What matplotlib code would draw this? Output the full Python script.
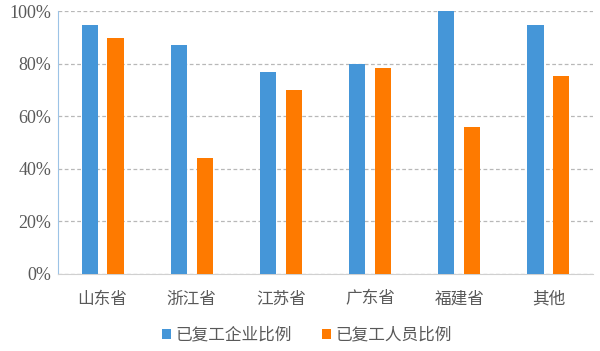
import numpy as np
import matplotlib
matplotlib.use('Agg')
import matplotlib.pyplot as plt
from matplotlib.ticker import PercentFormatter

## Data
provinces = ['山东省', '浙江省', '江苏省', '广东省', '福建省', '其他']
enterprise_pct = [94.6, 87.0, 76.7, 80.0, 100.0, 94.8]
worker_pct = [89.6, 44.0, 70.0, 78.2, 55.8, 75.2]
series_names = ['已复工企业比例', '已复工人员比例']

plt.rcParams['font.family'] = ['Noto Sans CJK SC', 'DejaVu Sans']

fig = plt.figure(figsize=(6, 3.51), dpi=100)
ax = fig.add_axes([58/600, 1-274/351, 535/600, 263/351])

x = np.arange(len(provinces))
w = 0.18
off = 0.145
ax.bar(x - off, enterprise_pct, w, color='#4596d8', label=series_names[0], zorder=3)
ax.bar(x + off, worker_pct, w, color='#fe7a00', label=series_names[1], zorder=3)

ax.set_xlim(-0.5, len(provinces) - 0.5)
ax.set_ylim(0, 100)
ax.set_yticks(np.arange(0, 101, 20))
ax.yaxis.set_major_formatter(PercentFormatter(decimals=0))
ax.grid(axis='y', color='#b8b8b8', linestyle=(0, (3, 2)), linewidth=0.9, zorder=0)

ax.set_xticks(x)
ax.set_xticklabels(provinces, fontsize=12, color='#595959')
for lab in ax.get_yticklabels():
    lab.set_family('Liberation Serif')
    lab.set_fontsize(13)
    lab.set_color('#595959')
ax.tick_params(axis='both', length=0)
ax.tick_params(axis='x', pad=12)
ax.tick_params(axis='y', pad=5)

for s in ['top', 'right']:
    ax.spines[s].set_visible(False)
ax.spines['left'].set_color('#9cc3e6')
ax.spines['bottom'].set_color('#d0d0d0')

fig.legend(loc='center', bbox_to_anchor=(307/600, 1-335/351), ncol=2, frameon=False,
           fontsize=12, handlelength=0.55, handleheight=0.55, handletextpad=0.25,
           columnspacing=1.8, labelcolor='#595959')

fig.savefig('out.png', dpi=100)
